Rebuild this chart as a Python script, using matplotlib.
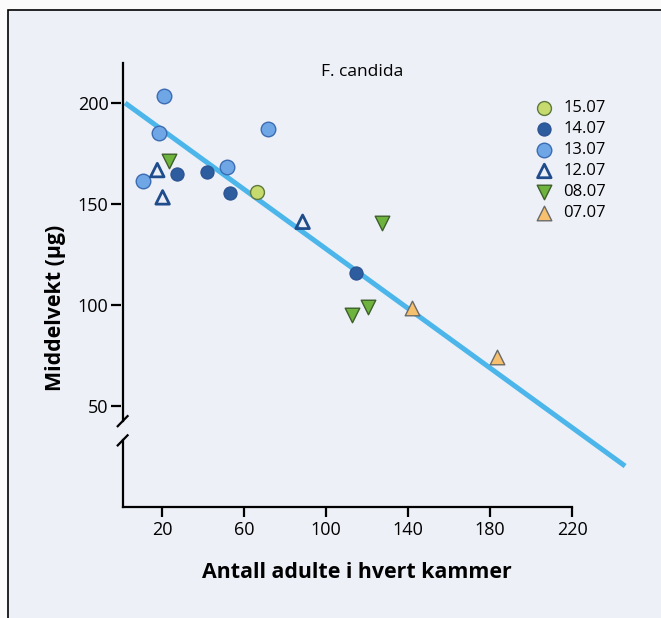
import matplotlib
matplotlib.use("Agg")
import matplotlib.pyplot as plt
from matplotlib.patches import Rectangle
import numpy as np

plt.rcParams["font.family"] = ["Open Sans", "DejaVu Sans"]

# data (x = adults per chamber, y = mean weight in µg)
d1507_x = [66.5]
d1507_y = [155.8]
d1407_x = [27.5, 42.1, 53.2, 114.6]
d1407_y = [164.9, 165.7, 155.6, 115.7]
d1307_x = [21.1, 18.5, 10.9, 51.5, 71.9]
d1307_y = [203.5, 185.0, 161.5, 168.5, 187.0]
d1207_x = [17.7, 20.3, 88.6]
d1207_y = [166.8, 153.3, 141.2]
d0807_x = [23.4, 127.2, 112.5, 120.6]
d0807_y = [171.5, 140.5, 95.2, 98.8]
d0707_x = [142.1, 183.3]
d0707_y = [98.5, 74.2]

fit_intercept = 201.5
fit_slope = -0.737
fit_x = [2.0, 245.9]

x_ticks = [20, 60, 100, 140, 180, 220]
y_ticks = [50, 100, 150, 200]

BG = "#eef0f8"
LINE_BLUE = "#4cb6ea"

fig = plt.figure(figsize=(6.61, 6.18), dpi=100, facecolor="#fbfbfb")
fig.add_artist(Rectangle((8 / 661, -0.02), 1.0, 608 / 618 + 0.02,
                         transform=fig.transFigure, facecolor=BG,
                         edgecolor="black", linewidth=1.2, zorder=0))

ax = fig.add_axes([121 / 661, (618 - 507) / 618, 512.5 / 661, 448.4 / 618])
ax.set_facecolor("none")
ax.set_xlim(0, 250)
ax.set_ylim(0, 222)

fx = np.array(fit_x)
ax.plot(fx, fit_intercept + fit_slope * fx, color=LINE_BLUE, linewidth=3.6,
        solid_capstyle="butt", zorder=2)

series = [
    ("15.07", d1507_x, d1507_y, dict(marker="o", s=100, c="#c6da6e", edgecolors="#5d7a3c", linewidths=1.0)),
    ("14.07", d1407_x, d1407_y, dict(marker="o", s=90, c="#2d5c9f", edgecolors="#2a5190", linewidths=0.8)),
    ("13.07", d1307_x, d1307_y, dict(marker="o", s=110, c="#6fa6e6", edgecolors="#3b6cb2", linewidths=1.0)),
    ("12.07", d1207_x, d1207_y, dict(marker="^", s=95, facecolors="none", edgecolors="#1f4d8c", linewidths=2.0)),
    ("08.07", d0807_x, d0807_y, dict(marker="v", s=110, c="#6db33e", edgecolors="#3e5f2c", linewidths=1.0)),
    ("07.07", d0707_x, d0707_y, dict(marker="^", s=110, c="#f6c06e", edgecolors="#6a6a6a", linewidths=1.0)),
]
handles = []
for label, xs, ys, kw in series:
    h = ax.scatter(xs, ys, zorder=3, label=label, **kw)
    handles.append(h)

# spines
for side in ("top", "right", "left"):
    ax.spines[side].set_visible(False)
ax.spines["bottom"].set_bounds(0.8, 220)
ax.spines["bottom"].set_linewidth(1.6)

# broken y axis drawn by hand
ax.plot([0.8, 0.8], [42.5, 220], color="black", linewidth=1.6, clip_on=False, zorder=4)
ax.plot([0.8, 0.8], [33.0, 0], color="black", linewidth=1.6, clip_on=False, zorder=4)
for yc in (42.5, 33.0):
    ax.plot([0.8 - 2.4, 0.8 + 2.4], [yc - 2.5, yc + 2.5], color="black",
            linewidth=1.6, clip_on=False, zorder=4)

ax.set_xticks(x_ticks)
ax.set_yticks(y_ticks)
ax.tick_params(axis="both", direction="out", length=7, width=1.6, labelsize=13,
               pad=3, color="black")
ax.tick_params(axis="y", pad=2)

ax.set_xlabel("Antall adulte i hvert kammer", fontsize=15.4, fontweight="bold")
ax.xaxis.set_label_coords(0.4605, -0.122)
ax.set_ylabel("Middelvekt (\u03bcg)", fontsize=15.4, fontweight="bold")
ax.yaxis.set_label_coords(-0.108, 0.444)

ax.text(362 / 661, 1 - 72 / 618, "F. candida", transform=fig.transFigure,
        ha="center", va="center", fontsize=12.5)

leg = ax.legend(handles=handles, loc="upper left",
                bbox_to_anchor=(526 / 661, 1 - 92 / 618),
                bbox_transform=fig.transFigure, frameon=False, fontsize=12,
                handletextpad=0.55, labelspacing=0.3, borderpad=0,
                handlelength=1.2, scatterpoints=1)

fig.savefig("out.png", dpi=100, facecolor=fig.get_facecolor())
